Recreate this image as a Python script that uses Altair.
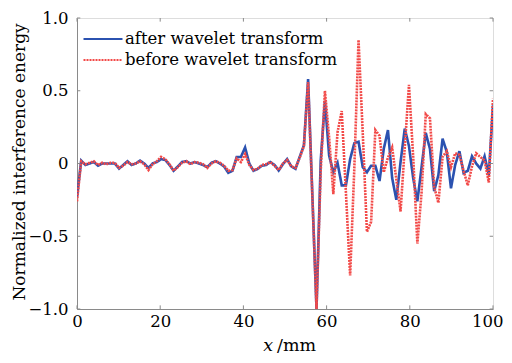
import altair as alt
import pandas as pd

n_points = 100
x_start, x_end = 0, 100

after = [-0.23, 0.02, -0.01, 0.0, 0.01, -0.015, 0.0, 0.0, 0.0, 0.0,
         -0.035, -0.01, 0.015, -0.01, 0.0, 0.02, 0.0, -0.03, 0.0, 0.01,
         0.03, 0.025, -0.01, -0.05, -0.02, 0.01, 0.016, 0.0, 0.01, 0.0,
         -0.01, -0.025, 0.005, 0.016, 0.0, -0.02, -0.064, -0.05, 0.045, 0.045,
         0.11, 0.0, -0.05, -0.037, -0.015, -0.01, 0.01, -0.01, -0.048, -0.005,
         0.03, -0.02, -0.037, 0.045, 0.125, 0.58, -0.21, -1.0, 0.02, 0.43,
         0.055, -0.06, 0.005, -0.15, -0.15, 0.03, 0.14, 0.15, -0.025, -0.06,
         -0.015, -0.015, -0.12, 0.1, 0.23, -0.1, -0.25, 0.01, 0.24, 0.12,
         -0.1, -0.26, -0.025, 0.21, 0.1, -0.19, -0.08, 0.17, 0.08, -0.17,
         -0.01, 0.085, -0.065, -0.05, 0.05, 0.0, -0.035, 0.05, -0.08, 0.40]

before = [-0.26, 0.015, -0.005, 0.005, 0.015, -0.01, 0.005, -0.005, 0.005, 0.005,
          -0.03, -0.015, 0.01, -0.005, 0.0, 0.015, -0.005, -0.045, -0.005, 0.015,
          0.045, 0.03, -0.005, -0.05, -0.025, 0.005, 0.015, -0.005, 0.01, 0.005,
          -0.005, -0.03, 0.0, 0.015, 0.005, -0.015, -0.05, -0.045, 0.035, 0.01,
          0.065, -0.01, -0.045, -0.035, -0.01, -0.005, 0.01, -0.015, -0.045, 0.0,
          0.025, -0.02, -0.03, 0.04, 0.12, 0.56, -0.22, -1.0, -0.05, 0.50,
          0.18, -0.21, 0.215, 0.36, -0.2, -0.77, -0.03, 0.85, 0.21, -0.47,
          -0.40, 0.23, 0.19, -0.06, 0.04, 0.11, -0.11, -0.33, 0.11, 0.54,
          0.05, -0.55, -0.2, 0.34, 0.31, -0.16, -0.27, 0.045, 0.085, -0.025,
          0.07, 0.06, -0.05, -0.15, -0.02, 0.07, 0.045, 0.02, -0.13, 0.445]

series_names = ["after wavelet transform", "before wavelet transform"]
series_colors = ["#2b52b0", "#f24a48"]
x_ticks = [0, 20, 40, 60, 80, 100]
y_ticks = [-1.0, -0.5, 0.0, 0.5, 1.0]

xs = [x_start + (x_end - x_start) * i / (n_points - 1) for i in range(n_points)]
rows = []
for name, vals in zip(series_names, [after, before]):
    for xv, yv in zip(xs, vals):
        rows.append({"x": xv, "y": yv, "series": name})
df = pd.DataFrame(rows)

FONT = "DejaVu Serif"
W, H = 416, 291

xscale = alt.Scale(domain=[0, 100], nice=False, zero=False)
yscale = alt.Scale(domain=[-1, 1], nice=False, zero=False)

lines = alt.Chart(df).mark_line(strokeWidth=2.6, clip=True).encode(
    x=alt.X("x:Q", scale=xscale,
            axis=alt.Axis(values=x_ticks, title=None, grid=False, ticks=False,
                          domainColor="#8a8a8a", labelFont=FONT, labelFontSize=16.5,
                          labelColor="black", labelPadding=4, labelFlush=False,
                          labelAlign={"condition": {"test": "datum.value == 100", "value": "right"},
                                      "value": "center"},
                          labelOffset={"condition": {"test": "datum.value == 100", "value": 10},
                                       "value": 0})),
    y=alt.Y("y:Q", scale=yscale,
            axis=alt.Axis(values=y_ticks, grid=False, ticks=False,
                          domainColor="#8a8a8a", labelFont=FONT, labelFontSize=16.5,
                          labelColor="black", labelPadding=9,
                          labelExpr="datum.value == 0 ? '0' : format(datum.value, '.1f')",
                          title="Normalized interference energy",
                          titleFont=FONT, titleFontSize=17, titleFontWeight="normal",
                          titleColor="black", titleX=-58, titleY=H / 2 - 2,
                          titleAngle=-90, titleBaseline="middle", titleAlign="center")),
    color=alt.Color("series:N",
                    scale=alt.Scale(domain=series_names, range=series_colors),
                    legend=alt.Legend(title=None, orient="none", legendX=15, legendY=10,
                                      symbolType="M-2,0H2", symbolSize=380,
                                      symbolStrokeWidth=2.2, labelFont=FONT,
                                      labelFontSize=16.5, labelColor="black",
                                      labelLimit=500,
                                      labelOffset=11, rowPadding=1, padding=0)),
    strokeDash=alt.StrokeDash("series:N",
                              scale=alt.Scale(domain=series_names, range=[[1, 0], [2, 1]]),
                              legend=None),
    order=alt.Order("series:N"),
)

tick_df_x = pd.DataFrame({"t": x_ticks})
tick_df_y = pd.DataFrame({"t": y_ticks})
tick_col = "#8a8a8a"

bt = alt.Chart(tick_df_x).mark_rule(color=tick_col).encode(
    x=alt.X("t:Q", scale=xscale), y=alt.datum(-1.0, scale=yscale), y2=alt.datum(-0.975))
tt = alt.Chart(tick_df_x).mark_rule(color=tick_col).encode(
    x=alt.X("t:Q", scale=xscale), y=alt.datum(1.0, scale=yscale), y2=alt.datum(0.975))
lt = alt.Chart(tick_df_y).mark_rule(color=tick_col).encode(
    y=alt.Y("t:Q", scale=yscale), x=alt.datum(0, scale=xscale), x2=alt.datum(0.8))
rt = alt.Chart(tick_df_y).mark_rule(color=tick_col).encode(
    y=alt.Y("t:Q", scale=yscale), x=alt.datum(100, scale=xscale), x2=alt.datum(99.2))

title_x = alt.Chart(pd.DataFrame({"s": ["x"]})).mark_text(
    font=FONT, fontSize=17.5, fontStyle="italic", align="right", baseline="alphabetic",
    color="black").encode(text="s:N", x=alt.value(196), y=alt.value(333))
title_mm = alt.Chart(pd.DataFrame({"s": ["/mm"]})).mark_text(
    font=FONT, fontSize=17.5, align="left", baseline="alphabetic",
    color="black").encode(text="s:N", x=alt.value(200), y=alt.value(333))

chart = alt.layer(lines, bt, tt, lt, rt, title_x, title_mm).properties(
    width=W, height=H,
    autosize=alt.AutoSizeParams(type="none"),
    padding={"left": 69, "top": 10, "right": 11, "bottom": 46},
).configure_view(stroke="#8a8a8a", strokeWidth=1).configure(background="white")

chart.save("out.html", embed_options={"renderer": "svg", "actions": False})
